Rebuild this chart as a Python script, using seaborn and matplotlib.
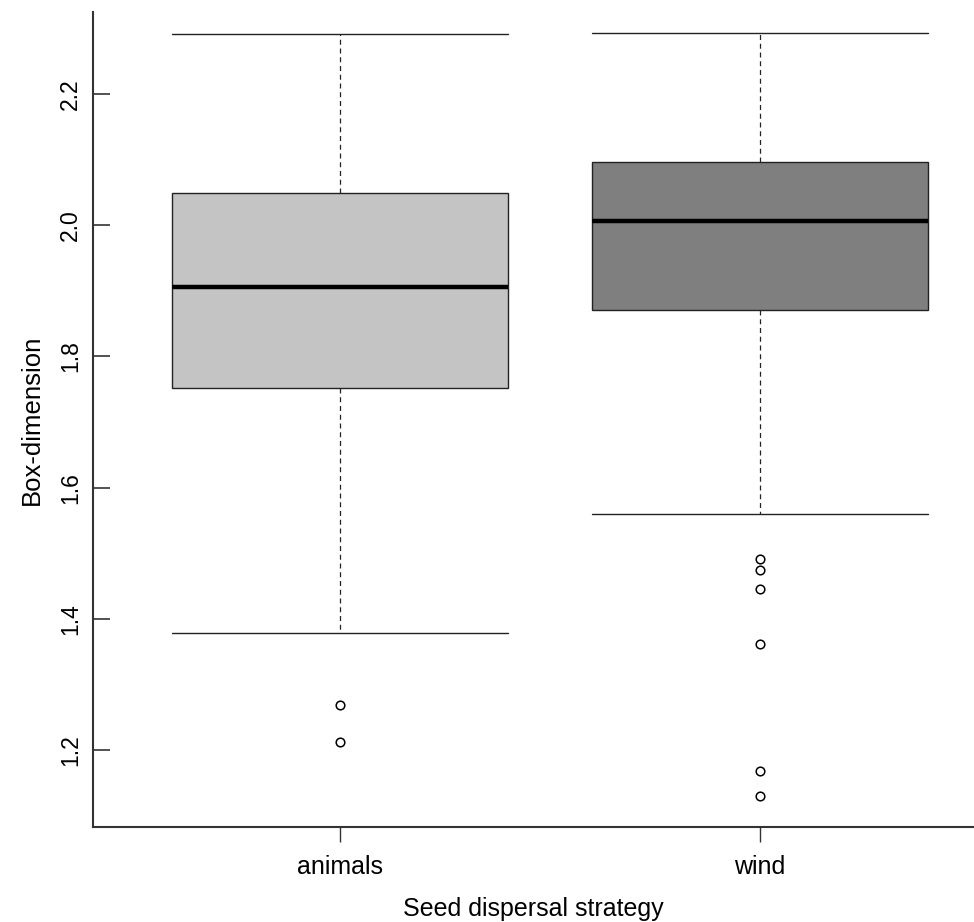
import matplotlib
matplotlib.use("Agg")
import matplotlib.pyplot as plt
import seaborn as sns
import pandas as pd

# ---- data ----
categories = ["animals", "wind"]
# five-number summaries: lower whisker, Q1, median, Q3, upper whisker
animals_summary = [1.378, 1.752, 1.906, 2.049, 2.2915]
wind_summary = [1.560, 1.871, 2.006, 2.096, 2.293]
animals_outliers = [1.269, 1.212]
wind_outliers = [1.491, 1.474, 1.445, 1.362, 1.168, 1.130]
box_colors = ["#c4c4c4", "#7f7f7f"]
y_ticks = [1.2, 1.4, 1.6, 1.8, 2.0, 2.2]

summary = pd.DataFrame({
    "strategy": [categories[0]] * len(animals_summary) + [categories[1]] * len(wind_summary),
    "value": animals_summary + wind_summary,
})
outliers = pd.DataFrame({
    "strategy": [categories[0]] * len(animals_outliers) + [categories[1]] * len(wind_outliers),
    "value": animals_outliers + wind_outliers,
})

sns.set_theme(style="white")
plt.rcParams["font.family"] = ["Liberation Sans", "DejaVu Sans"]
plt.rcParams["text.color"] = "black"
plt.rcParams["axes.labelcolor"] = "black"
plt.rcParams["xtick.color"] = "black"
plt.rcParams["ytick.color"] = "black"

fig = plt.figure(figsize=(9.74, 9.22), dpi=100)
ax = fig.add_axes([93 / 974, 1 - 827 / 922, 1 - 93 / 974, (827 - 12) / 922])

edge = "#222222"
sns.boxplot(
    data=summary, x="strategy", y="value", order=categories,
    hue="strategy", hue_order=categories, palette=box_colors, legend=False,
    width=0.8, whis=1.5, showfliers=False, ax=ax,
    linecolor=edge, linewidth=1.0,
    medianprops=dict(color="black", linewidth=3.2),
    whiskerprops=dict(color=edge, linestyle=(0, (4, 3)), linewidth=0.9),
    capprops=dict(color=edge, linewidth=1.0),
    boxprops=dict(edgecolor=edge, linewidth=1.0),
    capwidths=0.8,
)
sns.stripplot(
    data=outliers, x="strategy", y="value", order=categories,
    jitter=False, color="white", edgecolor="black", linewidth=1.1,
    size=6.2, marker="o", ax=ax, zorder=5,
)

ax.set_xlim(-0.588, 1.51)
ax.set_ylim(1.0826, 2.325)
ax.set_yticks(y_ticks)
ax.set_yticklabels([f"{t:.1f}" for t in y_ticks], rotation=90, va="center")

for side in ["top", "right"]:
    ax.spines[side].set_visible(False)
for side in ["left", "bottom"]:
    ax.spines[side].set_color("#333333")
    ax.spines[side].set_linewidth(1.5)

ax.tick_params(axis="y", direction="in", length=12, width=1.2, color="#333333",
               labelsize=16.5, pad=8, left=True, labelcolor="black")
ax.tick_params(axis="x", direction="out", length=11, width=1.0, color="#333333",
               labelsize=18, pad=9, bottom=True, labelcolor="black")
ax.set_xlabel("Seed dispersal strategy", fontsize=18, labelpad=13, color="black")
ax.set_ylabel("Box-dimension", fontsize=18.5, labelpad=11, color="black")

fig.savefig("out.png", dpi=100, facecolor="white")
